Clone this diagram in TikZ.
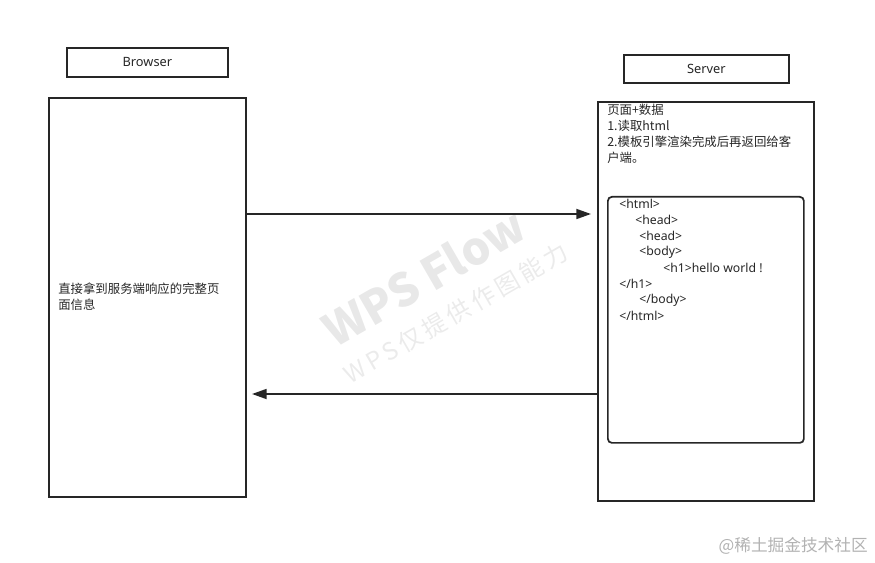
\documentclass[tikz,border=0pt]{standalone}
\usepackage{fontspec}
\setmainfont{Noto Sans CJK SC}
\newfontfamily\lat{Noto Sans}
\usetikzlibrary{arrows.meta}
\newcommand{\tx}{\fontsize{9.3}{12}\selectfont}

\begin{document}
\begin{tikzpicture}[x=0.75pt,y=-0.75pt,
   box/.style={draw=black!85,line width=1.3pt,inner sep=0pt,anchor=north west},
   flow/.style={draw=black!85,line width=1.3pt,-{Triangle[length=11pt,width=7.5pt]}},
   code/.style={anchor=west,inner sep=0pt,font=\lat\fontsize{9.2}{12}\selectfont,text=black!85}]
   \useasboundingbox (0,0) rectangle (875,563);
   % watermarks
   \node[rotate=30,text=black!9,font=\bfseries\fontsize{34}{34}\selectfont] (wm1) at (424,277) {WPS Flow};
   \node[rotate=30,text=black!8,font=\fontsize{18}{18}\selectfont] (wm2) at (456,313) {W\,P\,S\,仅\,提\,供\,作\,图\,能\,力};
   % lanes
   \node[box,minimum width=120.75pt,minimum height=21.75pt] (browserhd) at ( 66, 47) {};
   \node[box,minimum width=147.75pt,minimum height=299.25pt] (browser) at ( 48, 97) {};
   \node[box,minimum width=123.75pt,minimum height=21pt] (serverhd) at (623, 54) {};
   \node[box,minimum width=162pt,minimum height=299.25pt] (server) at (597,101) {};
   \node[box,minimum width=147pt,minimum height=184.5pt,rounded corners=3pt] (tpl) at (607,196) {};
   \node[code,anchor=center,font=\lat\fontsize{9.6}{12}\selectfont] (browsertx) at (browserhd.center) {Browser};
   \node[code,anchor=center,font=\lat\fontsize{9.6}{12}\selectfont] (servertx) at (serverhd.center) {Server};
   % texts
   \node[anchor=north west,inner sep=0pt,align=left,font=\tx,text=black!85] (bmsg) at (58,283)
      {直接拿到服务端响应的完整页\\面信息};
   \node[anchor=north west,inner sep=0pt,align=left,font=\tx,text=black!85] (smsg) at (607,104)
      {页面+数据\\1.读取html\\2.模板引擎渲染完成后再返回给客\\户端。};
   \node[code] (c1) at (619,204) {<html>};
   \node[code] (c2) at (635,220) {<head>};
   \node[code] (c3) at (639,236) {<head>};
   \node[code] (c4) at (639,252) {<body>};
   \node[code] (c5) at (663,268) {<h1>hello world !};
   \node[code] (c6) at (619,284) {</h1>};
   \node[code] (c7) at (639,300) {</body>};
   \node[code] (c8) at (619,316) {</html>};
   % arrows
   \coordinate (reqend) at (591,214);
   \coordinate (respend) at (252,394);
   \draw[flow] (browser.east |- reqend) -- (reqend);
   \draw[flow] (server.west |- respend) -- (respend);
   % footer
   \node[anchor=east,inner sep=0pt,text=black!30,font=\fontsize{12.5}{13}\selectfont] (juejin) at (868,546) {@稀土掘金技术社区};
\end{tikzpicture}
\end{document}
